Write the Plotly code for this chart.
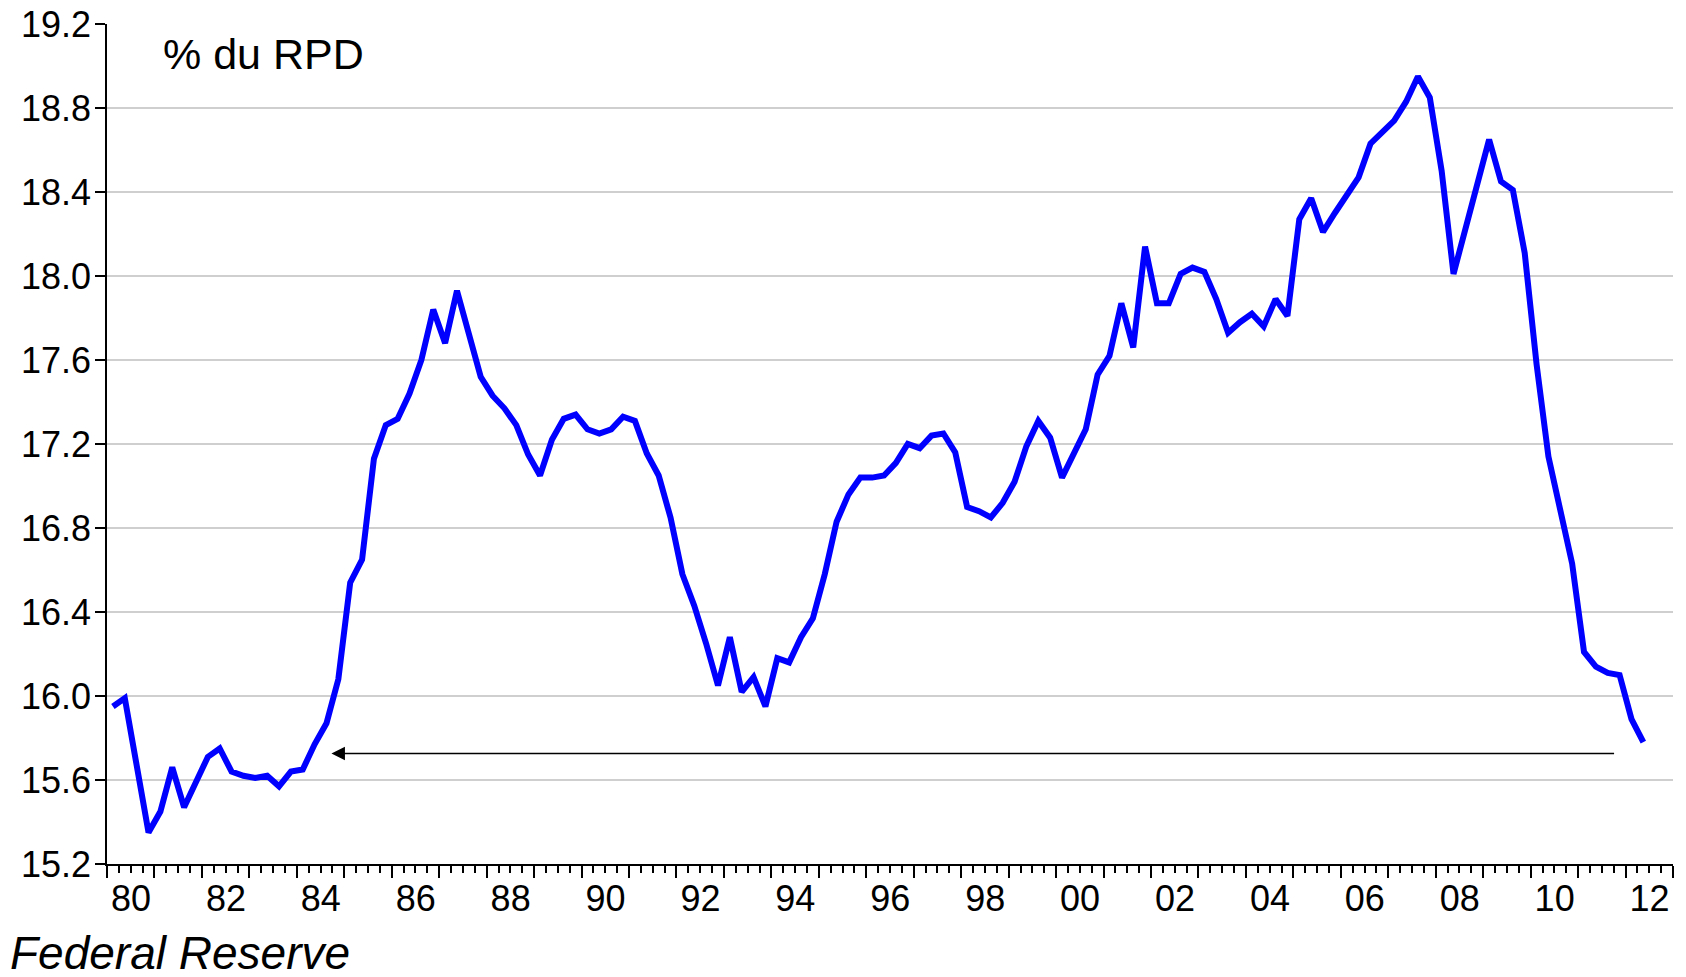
import plotly.graph_objects as go

# ---- data (quarterly, 1980Q1 .. 2012Q2), % of disposable personal income ----
START_YEAR = 1980
VALUES = [
    15.95, 15.99, 15.67, 15.35, 15.45, 15.66, 15.47, 15.59,   # 1980-81
    15.71, 15.75, 15.64, 15.62, 15.61, 15.62, 15.57, 15.64,   # 1982-83
    15.65, 15.77, 15.87, 16.08, 16.54, 16.65, 17.13, 17.29,   # 1984-85
    17.32, 17.44, 17.60, 17.84, 17.68, 17.93, 17.73, 17.52,   # 1986-87
    17.43, 17.37, 17.29, 17.15, 17.05, 17.22, 17.32, 17.34,   # 1988-89
    17.27, 17.25, 17.27, 17.33, 17.31, 17.155, 17.05, 16.85,  # 1990-91
    16.58, 16.43, 16.25, 16.05, 16.28, 16.02, 16.09, 15.95,   # 1992-93
    16.18, 16.16, 16.28, 16.37, 16.58, 16.83, 16.96, 17.04,   # 1994-95
    17.04, 17.05, 17.11, 17.20, 17.18, 17.24, 17.25, 17.16,   # 1996-97
    16.90, 16.88, 16.85, 16.92, 17.02, 17.19, 17.31, 17.23,   # 1998-99
    17.04, 17.16, 17.27, 17.53, 17.62, 17.87, 17.66, 18.14,   # 2000-01
    17.87, 17.87, 18.01, 18.04, 18.02, 17.89, 17.73, 17.78,   # 2002-03
    17.82, 17.76, 17.89, 17.81, 18.27, 18.37, 18.21, 18.30,   # 2004-05
    18.38, 18.47, 18.63, 18.69, 18.74, 18.83, 18.95, 18.85,   # 2006-07
    18.50, 18.01, 18.23, 18.44, 18.65, 18.45, 18.41, 18.11,   # 2008-09
    17.58, 17.14, 16.90, 16.63, 16.21, 16.14, 16.11, 16.10,   # 2010-11
    15.89, 15.78,                                             # 2012
]
QUARTERS = [f"{START_YEAR + i // 4}Q{i % 4 + 1}" for i in range(len(VALUES))]

YEAR_TICKS = list(range(1980, 2014))
YEAR_LABELS = [f"{y % 100:02d}" if y % 2 == 0 and y < 2013 else "" for y in YEAR_TICKS]
Y_TICKS = [15.2, 15.6, 16.0, 16.4, 16.8, 17.2, 17.6, 18.0, 18.4, 18.8, 19.2]

TITLE_TEXT = "% du RPD"
SOURCE_TEXT = "Federal Reserve"

# arrow annotation (level of last quarter carried back to 1984)
ARROW_Y = 15.726
ARROW_FROM_X = 2011.79
ARROW_TO_X = 1984.73

# quarter mid-points on a decimal-year axis
x_vals = [int(q[:4]) + (int(q[-1]) - 1) / 4 + 0.125 for q in QUARTERS]

FONT = "Liberation Sans, Arial, sans-serif"

fig = go.Figure()
fig.add_trace(go.Scatter(
    x=x_vals, y=VALUES, mode="lines",
    line=dict(color="#0000FF", width=6),
    showlegend=False, hoverinfo="skip",
))

fig.update_layout(
    width=1678, height=969,
    margin=dict(l=99, r=13, t=16, b=113, autoexpand=False),
    paper_bgcolor="white", plot_bgcolor="white",
    font=dict(family=FONT, size=36, color="black"),
    showlegend=False,
    xaxis=dict(
        range=[1980, 2013],
        tickmode="array", tickvals=YEAR_TICKS, ticktext=YEAR_LABELS,
        ticks="outside", ticklen=12, tickwidth=1.5, tickcolor="black",
        ticklabelshift=24, ticklabelstandoff=-10,
        ticklabeloverflow="allow",
        showline=True, linecolor="black", linewidth=1.5,
        showgrid=False, zeroline=False, automargin=False,
        minor=dict(dtick=0.25, tick0=1980, ticks="outside", ticklen=7,
                   tickwidth=1.5, tickcolor="black", showgrid=False),
        tickfont=dict(size=36, family=FONT, color="black"),
        fixedrange=True,
    ),
    yaxis=dict(
        range=[15.2, 19.2],
        tickmode="array", tickvals=Y_TICKS,
        ticktext=[f"{v:.1f}" for v in Y_TICKS],
        ticks="outside", ticklen=10, tickwidth=1.5, tickcolor="black",
        ticklabelstandoff=-3, ticklabeloverflow="allow",
        showline=True, linecolor="black", linewidth=1.5,
        showgrid=False, zeroline=False, automargin=False,
        minor=dict(tickmode="array", tickvals=Y_TICKS[1:-1], ticks="",
                   showgrid=True, gridcolor="#CFCFCF", gridwidth=1.5),
        tickfont=dict(size=36, family=FONT, color="black"),
        fixedrange=True,
    ),
    annotations=[
        dict(text=TITLE_TEXT, xref="paper", yref="paper",
             x=0.0343, y=0.9646, xanchor="left", yanchor="middle",
             showarrow=False, font=dict(size=43, family=FONT, color="black")),
        dict(text=SOURCE_TEXT, xref="paper", yref="paper",
             x=-0.0635, y=-0.106, xanchor="left", yanchor="middle",
             showarrow=False,
             font=dict(size=46, family=FONT, color="black", style="italic")),
        dict(text="", x=ARROW_TO_X, y=ARROW_Y, ax=ARROW_FROM_X, ay=ARROW_Y,
             xref="x", yref="y", axref="x", ayref="y",
             showarrow=True, arrowhead=2, arrowsize=1.8, arrowwidth=1.5,
             arrowcolor="black", standoff=0),
    ],
)

fig.write_html("out.html")
